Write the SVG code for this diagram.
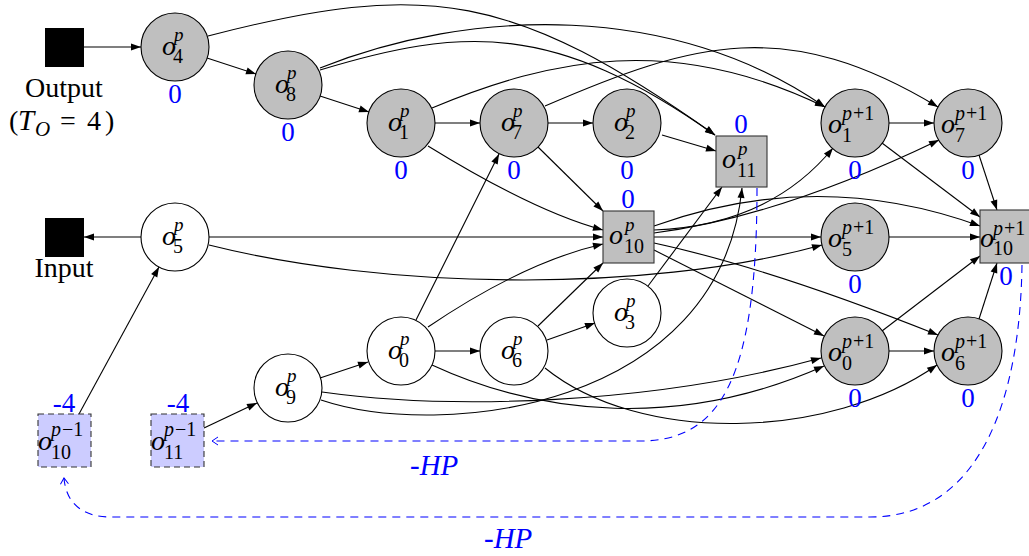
<svg xmlns="http://www.w3.org/2000/svg" width="1029" height="556" viewBox="0 0 1029 556">
<defs>
<style>
.e{fill:none;stroke:#000;stroke-width:1.1;marker-end:url(#ah)}
.g{fill:#bfbfbf;stroke:#000;stroke-width:1.1}
.w{fill:#fff;stroke:#000;stroke-width:1.1}
.bx{fill:#bfbfbf;stroke:#333;stroke-width:1.1}
.db{fill:#ccccff;stroke:#333;stroke-width:1.1;stroke-dasharray:6,4}
.m{font-family:"Liberation Serif",serif;font-style:italic;font-size:28px}
.s{font-style:italic;font-size:19px}
.s2{font-style:italic;font-size:20px}
.n{font-style:normal;font-size:20px}
.u{font-style:normal}
.lbl{font-family:"Liberation Serif",serif;font-size:27px;fill:#0000ff;text-anchor:middle}
.t{font-family:"Liberation Serif",serif;font-size:28px;text-anchor:middle}
.hd{fill:none;stroke:#0000ff;stroke-width:1.1;stroke-dasharray:8,6;marker-end:url(#oa)}
.hp{font-family:"Liberation Serif",serif;font-size:29px;fill:#0000ff}
</style>
<marker id="ah" markerWidth="11" markerHeight="8" refX="10" refY="4" orient="auto" markerUnits="userSpaceOnUse" overflow="visible"><path d="M0,0.5 L10,4 L0,7.5 z" fill="#000"/></marker>
<marker id="oa" markerWidth="8" markerHeight="10" refX="6" refY="4.5" orient="auto" markerUnits="userSpaceOnUse" overflow="visible"><path d="M0,0.5 L6,4.5 L0,8.5" fill="none" stroke="#0000ff" stroke-width="1"/></marker>
</defs>
<rect width="1029" height="556" fill="#fff"/>

<g id="connectors">
<line class="e" x1="84" y1="47" x2="141" y2="47"/>
<line class="e" x1="207" y1="58" x2="256" y2="74"/>
<line class="e" x1="320" y1="96" x2="369" y2="112"/>
<line class="e" x1="435" y1="123" x2="480" y2="123"/>
<line class="e" x1="548" y1="123" x2="593" y2="123"/>
<line class="e" x1="662" y1="135" x2="716" y2="151"/>
<line class="e" x1="538" y1="147" x2="603" y2="211"/>
<line class="e" x1="416" y1="320" x2="499" y2="154"/>
<line class="e" x1="209" y1="237" x2="603" y2="237"/>
<line class="e" x1="538" y1="326" x2="603" y2="263"/>
<line class="e" x1="547" y1="340" x2="595" y2="323"/>
<line class="e" x1="435" y1="351" x2="480" y2="351"/>
<line class="e" x1="320" y1="378" x2="368" y2="362"/>
<line class="e" x1="204" y1="428" x2="257" y2="403"/>
<line class="e" x1="79" y1="414" x2="159" y2="267"/>
<line class="e" x1="141" y1="237" x2="84" y2="237"/>
<line class="e" x1="648" y1="286" x2="722" y2="187"/>
<line class="e" x1="654" y1="237" x2="821" y2="237"/>
<line class="e" x1="654" y1="250" x2="824" y2="336"/>
<line class="e" x1="889" y1="123" x2="934" y2="123"/>
<line class="e" x1="889" y1="351" x2="934" y2="351"/>
<line class="e" x1="889" y1="237" x2="980" y2="237"/>
<line class="e" x1="882" y1="143" x2="980" y2="217"/>
<line class="e" x1="979" y1="155" x2="997" y2="210"/>
<line class="e" x1="882" y1="331" x2="980" y2="256"/>
<line class="e" x1="979" y1="319" x2="997" y2="263"/>
<path class="e" d="M208,36 C428,-21 514,-7 715,135"/>
<path class="e" d="M320,70 C462,27 554,21 715,135"/>
<path class="e" d="M320,68 C470,8 673,1 825,107"/>
<path class="e" d="M432,108 C552,58 673,33 825,107"/>
<path class="e" d="M545,106 C695,41 787,16 938,107"/>
<path class="e" d="M428,146 Q535,212 603,230"/>
<path class="e" d="M428,327 Q524,262 603,244"/>
<path class="e" d="M209,245 C380,288 640,295 822,245"/>
<path class="e" d="M321,400 C440,440 720,410 742,188"/>
<path class="e" d="M322,392 C450,410 650,405 821,358"/>
<path class="e" d="M432,365 C540,415 680,430 824,366"/>
<path class="e" d="M545,368 C640,445 830,440 937,365"/>
<path class="e" d="M654,243 Q770,268 938,335"/>
<path class="e" d="M654,230 Q770,225 833,148"/>
<path class="e" d="M654,233 Q779,217 939,140"/>
<path class="e" d="M654,226 Q817,167 980,226"/>
<path class="hd" d="M757,188 C757,380 720,441 640,441 L212,441"/>
<path class="hd" d="M1022,265 C1020,400 980,517 870,517 L110,517 C85,517 66,505 64,478"/>
</g>

<g id="output"><rect x="45" y="28" width="39" height="39" fill="#000"/><text class="t" x="64" y="97">Output</text>
<text class="t" y="130" style="text-anchor:start"><tspan x="9">(</tspan><tspan x="18" font-style="italic" font-size="29">T</tspan><tspan x="35" y="136" font-size="21" font-style="italic">O</tspan><tspan x="60" y="130">=</tspan><tspan x="87">4</tspan><tspan x="105">)</tspan></text></g>
<g id="input"><rect x="45" y="218" width="39" height="39" fill="#000"/><text class="t" x="64" y="277">Input</text></g>

<g id="o4"><circle class="g" cx="175" cy="47" r="34"/><text class="m" x="162" y="55">o<tspan class="s" x="174" y="41">p</tspan><tspan class="n" x="173" y="63">4</tspan></text><text class="lbl" x="175" y="103">0</text></g>
<g id="o8"><circle class="g" cx="288" cy="85" r="34"/><text class="m" x="275" y="93">o<tspan class="s" x="287" y="79">p</tspan><tspan class="n" x="286" y="101">8</tspan></text><text class="lbl" x="288" y="141">0</text></g>
<g id="o1"><circle class="g" cx="401" cy="123" r="34"/><text class="m" x="388" y="131">o<tspan class="s" x="400" y="117">p</tspan><tspan class="n" x="399" y="139">1</tspan></text><text class="lbl" x="401" y="179">0</text></g>
<g id="o7"><circle class="g" cx="514" cy="123" r="34"/><text class="m" x="501" y="131">o<tspan class="s" x="513" y="117">p</tspan><tspan class="n" x="512" y="139">7</tspan></text><text class="lbl" x="514" y="179">0</text></g>
<g id="o2"><circle class="g" cx="627" cy="123" r="34"/><text class="m" x="614" y="131">o<tspan class="s" x="626" y="117">p</tspan><tspan class="n" x="625" y="139">2</tspan></text><text class="lbl" x="627" y="179">0</text></g>
<g id="o5"><circle class="w" cx="175" cy="237" r="34"/><text class="m" x="162" y="245">o<tspan class="s" x="174" y="231">p</tspan><tspan class="n" x="173" y="253">5</tspan></text></g>
<g id="o0"><circle class="w" cx="401" cy="351" r="34"/><text class="m" x="388" y="359">o<tspan class="s" x="400" y="345">p</tspan><tspan class="n" x="399" y="367">0</tspan></text></g>
<g id="o6"><circle class="w" cx="514" cy="351" r="34"/><text class="m" x="501" y="359">o<tspan class="s" x="513" y="345">p</tspan><tspan class="n" x="512" y="367">6</tspan></text></g>
<g id="o3"><circle class="w" cx="627" cy="313" r="34"/><text class="m" x="614" y="321">o<tspan class="s" x="626" y="307">p</tspan><tspan class="n" x="625" y="329">3</tspan></text></g>
<g id="o9"><circle class="w" cx="288" cy="388" r="34"/><text class="m" x="275" y="396">o<tspan class="s" x="287" y="382">p</tspan><tspan class="n" x="286" y="404">9</tspan></text></g>

<g id="o11"><rect class="bx" x="716" y="136" width="51" height="51"/><text class="m" x="722" y="168">o<tspan class="s" x="738" y="155">p</tspan><tspan class="n" x="737" y="177">11</tspan></text><text class="lbl" x="741" y="133">0</text></g>
<g id="o10"><rect class="bx" x="603" y="211" width="51" height="52"/><text class="m" x="609" y="244">o<tspan class="s" x="625" y="231">p</tspan><tspan class="n" x="624" y="253">10</tspan></text><text class="lbl" x="628" y="208">0</text></g>

<g id="o1n"><circle class="g" cx="855" cy="123" r="34"/><text class="m" x="828" y="133">o<tspan class="s2" x="842" y="120">p</tspan><tspan class="n" dx="1">+1</tspan><tspan class="n" x="842" y="142">1</tspan></text><text class="lbl" x="855" y="179">0</text></g>
<g id="o7n"><circle class="g" cx="968" cy="123" r="34"/><text class="m" x="941" y="133">o<tspan class="s2" x="955" y="120">p</tspan><tspan class="n" dx="1">+1</tspan><tspan class="n" x="955" y="142">7</tspan></text><text class="lbl" x="968" y="179">0</text></g>
<g id="o5n"><circle class="g" cx="855" cy="237" r="34"/><text class="m" x="828" y="247">o<tspan class="s2" x="842" y="234">p</tspan><tspan class="n" dx="1">+1</tspan><tspan class="n" x="842" y="256">5</tspan></text><text class="lbl" x="855" y="293">0</text></g>
<g id="o0n"><circle class="g" cx="855" cy="351" r="34"/><text class="m" x="828" y="361">o<tspan class="s2" x="842" y="348">p</tspan><tspan class="n" dx="1">+1</tspan><tspan class="n" x="842" y="370">0</tspan></text><text class="lbl" x="855" y="407">0</text></g>
<g id="o6n"><circle class="g" cx="968" cy="351" r="34"/><text class="m" x="941" y="361">o<tspan class="s2" x="955" y="348">p</tspan><tspan class="n" dx="1">+1</tspan><tspan class="n" x="955" y="370">6</tspan></text><text class="lbl" x="968" y="407">0</text></g>
<g id="o10n"><rect class="bx" x="980" y="210" width="53" height="53"/><text class="m" x="980" y="247">o<tspan class="s2" x="993" y="235">p</tspan><tspan class="n" dx="1">+1</tspan><tspan class="n" x="993" y="255">10</tspan></text><text class="lbl" x="1006" y="285">0</text></g>

<g id="o10m"><rect class="db" x="38" y="414" width="53" height="53"/><text class="m" x="38" y="450">o<tspan class="s2" x="51" y="436">p</tspan><tspan class="n" dx="1">−1</tspan><tspan class="n" x="51" y="459">10</tspan></text><text class="lbl" x="64" y="412">-4</text></g>
<g id="o11m"><rect class="db" x="151" y="414" width="53" height="53"/><text class="m" x="151" y="450">o<tspan class="s2" x="164" y="436">p</tspan><tspan class="n" dx="1">−1</tspan><tspan class="n" x="164" y="459">11</tspan></text><text class="lbl" x="178" y="412">-4</text></g>

<text class="hp" x="410" y="475">-<tspan font-style="italic">HP</tspan></text>
<text class="hp" x="484" y="548">-<tspan font-style="italic">HP</tspan></text>
</svg>
